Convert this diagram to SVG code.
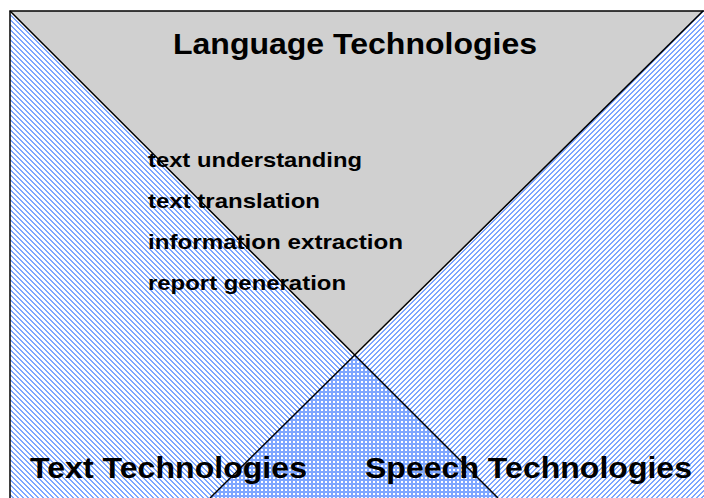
<svg xmlns="http://www.w3.org/2000/svg" width="704" height="498" viewBox="0 0 704 498">
  <defs>
    <pattern id="hatchBack" patternUnits="userSpaceOnUse" width="5" height="5">
      <rect width="5" height="5" fill="#ffffff"/>
      <rect x="0" y="0" width="2" height="1" fill="#7ea6ff"/>
      <rect x="1" y="1" width="2" height="1" fill="#7ea6ff"/>
      <rect x="2" y="2" width="2" height="1" fill="#7ea6ff"/>
      <rect x="3" y="3" width="2" height="1" fill="#7ea6ff"/>
      <rect x="4" y="4" width="1" height="1" fill="#7ea6ff"/>
      <rect x="0" y="4" width="1" height="1" fill="#7ea6ff"/>
    </pattern>
    <pattern id="hatchFwd" patternUnits="userSpaceOnUse" width="5" height="5">
      <rect width="5" height="5" fill="#ffffff"/>
      <rect x="3" y="0" width="2" height="1" fill="#7ea6ff"/>
      <rect x="2" y="1" width="2" height="1" fill="#7ea6ff"/>
      <rect x="1" y="2" width="2" height="1" fill="#7ea6ff"/>
      <rect x="0" y="3" width="2" height="1" fill="#7ea6ff"/>
      <rect x="0" y="4" width="1" height="1" fill="#7ea6ff"/>
      <rect x="4" y="4" width="1" height="1" fill="#7ea6ff"/>
    </pattern>
    <pattern id="checker" patternUnits="userSpaceOnUse" width="4" height="4">
      <rect width="4" height="4" fill="#7ea6ff"/>
      <rect x="1" y="1" width="2" height="2" fill="#ffffff"/>
    </pattern>
  </defs>
  <style>
    .edge { stroke: #000000; stroke-width: 1.5; fill: none; }
    .head { font-family: "Liberation Sans", Arial, sans-serif; font-weight: bold; font-size: 30px; fill: #000000; }
    .item { font-family: "Liberation Sans", Arial, sans-serif; font-weight: bold; font-size: 21px; fill: #000000; }
  </style>
  <rect width="704" height="498" fill="#ffffff"/>
  <g id="language-technologies">
    <polygon points="10,11 704,11 703,11 355,355" fill="#d0d0d0"/>
  </g>
  <g id="text-technologies">
    <polygon points="10,11 355,355 210,498 10,498" fill="url(#hatchBack)"/>
  </g>
  <g id="speech-technologies">
    <polygon points="703,11 704,11 704,498 498,498 355,355" fill="url(#hatchFwd)"/>
  </g>
  <g id="overlap">
    <polygon points="355,355 498,498 210,498" fill="url(#checker)"/>
  </g>
  <g id="connectors">
    <line class="edge" x1="10" y1="11" x2="498" y2="498"/>
    <line class="edge" x1="703" y1="11" x2="210" y2="498"/>
    <polyline class="edge" points="10,498 10,11 704,11"/>
  </g>
  <g id="labels">
    <text class="head" x="355" y="54" text-anchor="middle" textLength="364" lengthAdjust="spacingAndGlyphs">Language Technologies</text>
    <text class="item" x="148" y="167" textLength="214" lengthAdjust="spacingAndGlyphs">text understanding</text>
    <text class="item" x="148" y="208" textLength="172" lengthAdjust="spacingAndGlyphs">text translation</text>
    <text class="item" x="148" y="249" textLength="255" lengthAdjust="spacingAndGlyphs">information extraction</text>
    <text class="item" x="148" y="290" textLength="198" lengthAdjust="spacingAndGlyphs">report generation</text>
    <text class="head" x="30" y="478" textLength="277" lengthAdjust="spacingAndGlyphs">Text Technologies</text>
    <text class="head" x="365" y="478" textLength="327" lengthAdjust="spacingAndGlyphs">Speech Technologies</text>
  </g>
</svg>
